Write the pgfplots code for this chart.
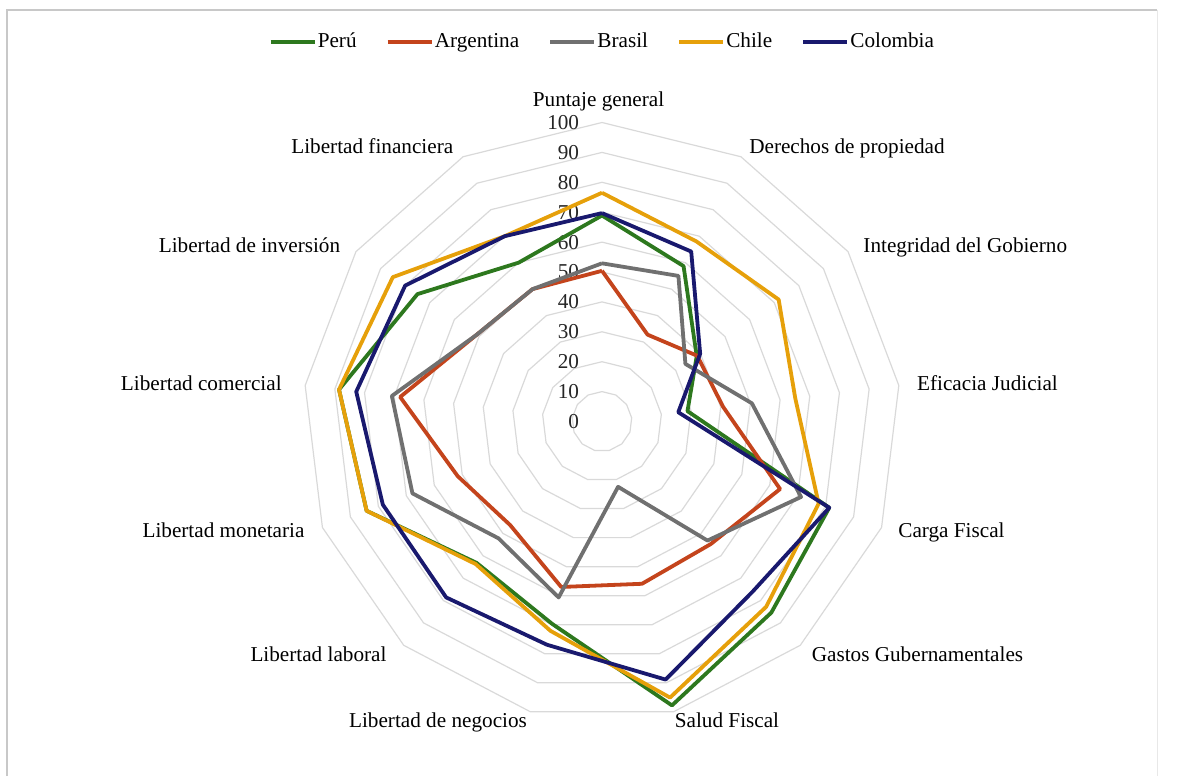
\documentclass[border=0pt]{standalone}
\usepackage{fontspec}
\setmainfont{Liberation Serif}
\usepackage{pgfplots}
\pgfplotsset{compat=1.18}
\usepackage{pgfplotstable}
\usepgfplotslibrary{polar}
\usetikzlibrary{calc}

\definecolor{cPeru}{RGB}{45,120,30}
\definecolor{cArg}{RGB}{196,68,28}
\definecolor{cBra}{RGB}{112,112,112}
\definecolor{cChi}{RGB}{230,160,10}
\definecolor{cCol}{RGB}{25,25,110}
\definecolor{gridgray}{RGB}{217,217,217}
\definecolor{framegray}{RGB}{200,200,200}
\definecolor{framelight}{RGB}{232,232,232}

\tikzset{lab/.style={anchor=base, inner sep=0pt, text=black}}

% Índice de libertad económica: one row per component (k = spoke index),
% the last row repeats the first one to close each polygon.
\pgfplotstableread{
k   peru  arg   bra   chile col
0   68.9  50.4  52.9  76.5  69.7
1   58.7  32.8  55.0  68.0  64.2
2   38.5  38.7  33.9  71.8  39.9
3   28.8  40.8  50.5  65.1  25.7
4   81.3  63.7  71.2  77.5  81.3
5   85.4  54.8  53.2  82.8  76.0
6   97.8  55.9  22.5  95.1  88.9
7   69.7  57.0  60.6  72.1  76.9
8   63.2  46.3  52.2  63.7  78.6
9   84.2  51.6  67.8  84.2  78.4
10  88.6  68.0  70.8  88.6  82.8
11  75.0  51.0  51.0  85.0  80.0
12  60.0  50.0  50.0  70.0  70.0
13  68.9  50.4  52.9  76.5  69.7
}\freedom

\begin{document}
\begin{tikzpicture}
\begin{polaraxis}[
  scale only axis, width=299pt, height=299pt,
  hide axis, clip=false,
  xmin=-270, xmax=90, ymin=0, ymax=100,
  font=\fontsize{10.6}{12.7}\selectfont,
  every axis plot/.append style={line join=round, line width=1.9pt},
  legend columns=-1,
  legend style={at={(0.5,1.1346)}, anchor=center, draw=none, fill=none,
    font=\fontsize{10.6}{12.7}\selectfont,
    nodes={inner sep=0.6pt},
    /tikz/every even column/.append style={column sep=14pt}},
  legend image code/.code={\draw[#1, line cap=butt] (0pt,0pt) -- (22pt,0pt);},
]
% polygonal grid rings
\pgfplotsinvokeforeach{10,20,...,100}{
  \addplot[forget plot, draw=gridgray, line width=0.6pt, line join=miter]
    table[x expr={90-\thisrow{k}*360/13}, y expr=#1] {\freedom};
}
\coordinate (O) at (axis cs:0,0);
% radial scale labels
\pgfplotsinvokeforeach{0,10,...,100}{
  \node[anchor=east, inner sep=0pt, text=black!85, xshift=-11.25pt] at (axis cs:90,#1) {#1};
}
% component names
\node[lab, xshift=-1.75pt,   yshift=157.5pt]   at (axis cs:0,0) {Puntaje general};
\node[lab, xshift=122.5pt,   yshift=134pt]     at (axis cs:0,0) {Derechos de propiedad};
\node[lab, xshift=181.65pt,  yshift=84.75pt]   at (axis cs:0,0) {Integridad del Gobierno};
\node[lab, xshift=192.75pt,  yshift=15.75pt]   at (axis cs:0,0) {Eficacia Judicial};
\node[lab, xshift=174.75pt,  yshift=-57.75pt]  at (axis cs:0,0) {Carga Fiscal};
\node[lab, xshift=157.75pt,  yshift=-119.75pt] at (axis cs:0,0) {Gastos Gubernamentales};
\node[lab, xshift=62.5pt,    yshift=-152.75pt] at (axis cs:0,0) {Salud Fiscal};
\node[lab, xshift=-82pt,     yshift=-152.75pt] at (axis cs:0,0) {Libertad de negocios};
\node[lab, xshift=-141.75pt, yshift=-119.75pt] at (axis cs:0,0) {Libertad laboral};
\node[lab, xshift=-189.25pt, yshift=-57.75pt]  at (axis cs:0,0) {Libertad monetaria};
\node[lab, xshift=-200.35pt, yshift=15.75pt]   at (axis cs:0,0) {Libertad comercial};
\node[lab, xshift=-176.25pt, yshift=84.75pt]   at (axis cs:0,0) {Libertad de inversión};
\node[lab, xshift=-114.85pt, yshift=134pt]     at (axis cs:0,0) {Libertad financiera};
% country profiles
\addplot[cPeru] table[x expr={90-\thisrow{k}*360/13}, y=peru]  {\freedom};
\addlegendentry{Perú}
\addplot[cArg]  table[x expr={90-\thisrow{k}*360/13}, y=arg]   {\freedom};
\addlegendentry{Argentina}
\addplot[cBra]  table[x expr={90-\thisrow{k}*360/13}, y=bra]   {\freedom};
\addlegendentry{Brasil}
\addplot[cChi]  table[x expr={90-\thisrow{k}*360/13}, y=chile] {\freedom};
\addlegendentry{Chile}
\addplot[cCol]  table[x expr={90-\thisrow{k}*360/13}, y=col]   {\freedom};
\addlegendentry{Colombia}
\end{polaraxis}
% chart frame
\draw[framegray, line width=1pt] ($(O)+(-297.5pt,-177.25pt)$) -- ($(O)+(-297.5pt,205.75pt)$) -- ($(O)+(277.5pt,205.75pt)$);
\draw[framelight, line width=0.5pt] ($(O)+(277.5pt,205.75pt)$) -- ($(O)+(277.5pt,-177.25pt)$);
\pgfresetboundingbox
\useasboundingbox ($(O)+(-301pt,-177.25pt)$) rectangle ($(O)+(292.5pt,210.75pt)$);
\end{tikzpicture}
\end{document}
